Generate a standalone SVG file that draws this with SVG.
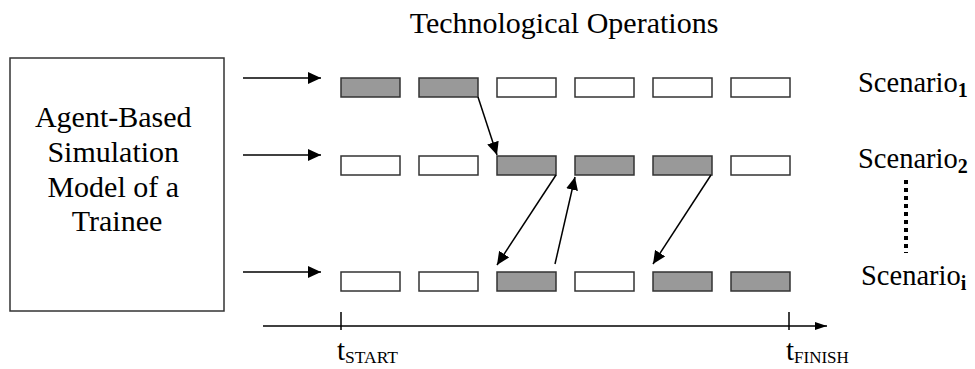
<svg xmlns="http://www.w3.org/2000/svg" width="975" height="369" viewBox="0 0 975 369">
<defs>
<marker id="ah" markerUnits="userSpaceOnUse" markerWidth="14" markerHeight="12" refX="13" refY="6" orient="auto">
<path d="M0,0 L13,6 L0,12 Z" fill="#000"/>
</marker>
<marker id="ahs" markerUnits="userSpaceOnUse" markerWidth="13" markerHeight="9" refX="12" refY="4.5" orient="auto">
<path d="M0,0.5 L12,4.5 L0,8.5 Z" fill="#000"/>
</marker>
<style>
.op{stroke:#333;stroke-width:1.5}
.w{fill:#fff}
.g{fill:#999}
.ln{stroke:#000;stroke-width:1.5;fill:none}
</style>
</defs>
<rect width="975" height="369" fill="#fff"/>
<text font-family="Liberation Serif, serif" x="564" y="33" font-size="30" text-anchor="middle">Technological Operations</text>
<g id="agent">
<rect x="10" y="58" width="214" height="253" fill="#fff" stroke="#333" stroke-width="1.5"/>
<text font-family="Liberation Serif, serif" font-size="30" text-anchor="middle">
<tspan x="117" y="127">Agent-Based</tspan>
<tspan x="117" y="162">Simulation</tspan>
<tspan x="117" y="197">Model of a</tspan>
<tspan x="117" y="231">Trainee</tspan>
</text>
</g>
<g id="row1">
<rect class="op g" x="341" y="78" width="59" height="19"/>
<rect class="op g" x="419" y="78" width="59" height="19"/>
<rect class="op w" x="497" y="78" width="59" height="19"/>
<rect class="op w" x="575" y="78" width="59" height="19"/>
<rect class="op w" x="653" y="78" width="59" height="19"/>
<rect class="op w" x="731" y="78" width="59" height="19"/>
</g>
<g id="row2">
<rect class="op w" x="341" y="156" width="59" height="19"/>
<rect class="op w" x="419" y="156" width="59" height="19"/>
<rect class="op g" x="497" y="156" width="59" height="19"/>
<rect class="op g" x="575" y="156" width="59" height="19"/>
<rect class="op g" x="653" y="156" width="59" height="19"/>
<rect class="op w" x="731" y="156" width="59" height="19"/>
</g>
<g id="row3">
<rect class="op w" x="341" y="272" width="59" height="19"/>
<rect class="op w" x="419" y="272" width="59" height="19"/>
<rect class="op g" x="497" y="272" width="59" height="19"/>
<rect class="op w" x="575" y="272" width="59" height="19"/>
<rect class="op g" x="653" y="272" width="59" height="19"/>
<rect class="op g" x="731" y="272" width="59" height="19"/>
</g>
<g id="labels">
<text font-family="Liberation Serif, serif" x="858" y="92" font-size="28.5">Scenario<tspan font-size="20" font-weight="bold" dy="5">1</tspan></text>
<text font-family="Liberation Serif, serif" x="858" y="168" font-size="28.5">Scenario<tspan font-size="20" font-weight="bold" dy="5">2</tspan></text>
<text font-family="Liberation Serif, serif" x="861" y="285" font-size="28.5">Scenario<tspan font-size="20" font-weight="bold" dy="5">i</tspan></text>
<line x1="906" y1="180" x2="906" y2="253" stroke="#000" stroke-width="4" stroke-dasharray="4 4"/>
</g>
<g id="connectors">
<line class="ln" x1="243" y1="78" x2="321" y2="78" marker-end="url(#ah)"/>
<line class="ln" x1="243" y1="155" x2="321" y2="155" marker-end="url(#ah)"/>
<line class="ln" x1="243" y1="272" x2="321" y2="272" marker-end="url(#ah)"/>
<line class="ln" x1="478" y1="97" x2="497" y2="155" marker-end="url(#ah)"/>
<line class="ln" x1="556" y1="175" x2="497" y2="265" marker-end="url(#ah)"/>
<line class="ln" x1="555" y1="264" x2="575" y2="177" marker-end="url(#ah)"/>
<line class="ln" x1="711" y1="175" x2="653" y2="264" marker-end="url(#ah)"/>
</g>
<g id="axis">
<line class="ln" x1="263" y1="326" x2="827" y2="326" marker-end="url(#ahs)"/>
<line class="ln" x1="341" y1="312" x2="341" y2="330"/>
<line class="ln" x1="789" y1="312" x2="789" y2="330"/>
<text font-family="Liberation Serif, serif" x="337" y="360" font-size="29">t<tspan font-size="17.5" dy="3">START</tspan></text>
<text font-family="Liberation Serif, serif" x="786" y="360" font-size="29">t<tspan font-size="17" dy="3">FINISH</tspan></text>
</g>
</svg>
